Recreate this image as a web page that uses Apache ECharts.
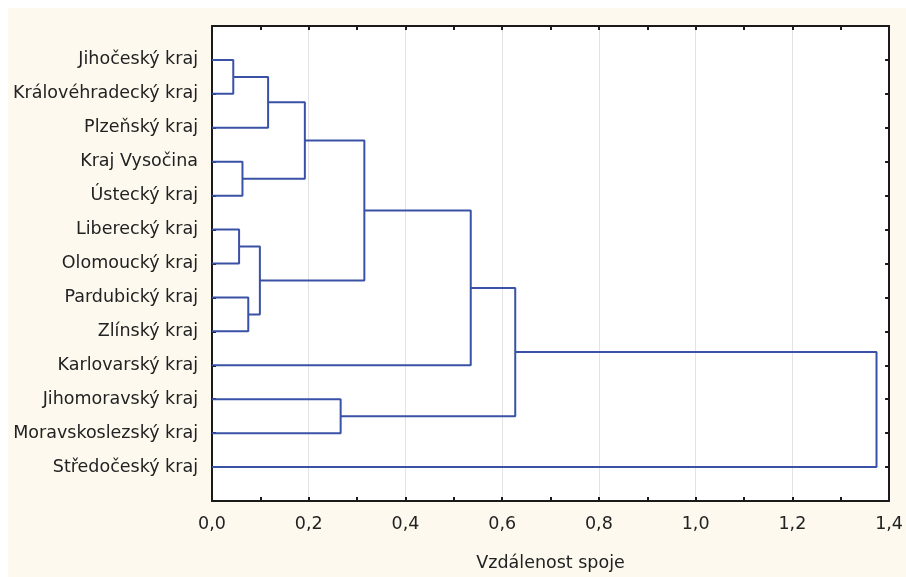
<!DOCTYPE html>
<html>
<head>
<meta charset="utf-8">
<script src="https://cdn.jsdelivr.net/npm/echarts@6/dist/echarts.min.js"></script>
<style>
html,body{margin:0;padding:0;background:#fff;}
#chart{width:906px;height:577px;}
</style>
</head>
<body>
<div id="chart"></div>
<script>
// Leaves (top to bottom)
var leaves = ['Jihočeský kraj','Královéhradecký kraj','Plzeňský kraj','Kraj Vysočina','Ústecký kraj',
  'Liberecký kraj','Olomoucký kraj','Pardubický kraj','Zlínský kraj','Karlovarský kraj',
  'Jihomoravský kraj','Moravskoslezský kraj','Středočeský kraj'];
// Merges: child indices (leaves 0..12, new clusters 13..)
var mergeLeft  = [0, 13, 3, 14, 5, 7, 17, 16, 20, 10, 21, 23];
var mergeRight = [1, 2, 4, 15, 6, 8, 18, 19, 9, 11, 22, 12];
var mergeDist  = [0.044, 0.116, 0.063, 0.192, 0.056, 0.075, 0.099, 0.315, 0.535, 0.266, 0.627, 1.374];
var xTicks = [0, 0.2, 0.4, 0.6, 0.8, 1.0, 1.2, 1.4];

var nodeH = [], nodeY = [];
for (var i = 0; i < leaves.length; i++) { nodeH.push(0); nodeY.push(i); }
var series = [];
for (var m = 0; m < mergeDist.length; m++) {
  var a = mergeLeft[m], b = mergeRight[m], h = mergeDist[m];
  series.push({
    type: 'line', symbol: 'none', silent: true, animation: false,
    lineStyle: { color: '#3a52a6', width: 2 },
    data: [[nodeH[a], nodeY[a]], [h, nodeY[a]], [h, nodeY[b]], [nodeH[b], nodeY[b]]]
  });
  nodeH.push(h); nodeY.push((nodeY[a] + nodeY[b]) / 2);
}

var font = '"DejaVu Sans", Verdana, sans-serif';
var fs = 17.5;
var chart = echarts.init(document.getElementById('chart'), null, {renderer: 'canvas'});
chart.setOption({
  backgroundColor: '#ffffff',
  animation: false,
  graphic: [{ type: 'rect', z: -10, silent: true, shape: { x: 8, y: 8, width: 898, height: 569 }, style: { fill: '#fdf9ef' } }],
  grid: { left: 212, right: 13, top: 26, bottom: 75, show: true, backgroundColor: '#ffffff', borderWidth: 0 },
  xAxis: [{
    type: 'value', min: 0, max: 1.4, interval: 0.2, position: 'bottom',
    name: 'Vzdálenost spoje', nameLocation: 'middle', nameGap: 53,
    nameTextStyle: { fontFamily: font, fontSize: fs, color: '#222' },
    axisLine: { show: true, onZero: false, lineStyle: { color: '#1a1a1a', width: 2 } },
    axisTick: { show: true, inside: true, length: 4, lineStyle: { color: '#1a1a1a', width: 2 } },
    minorTick: { show: true, splitNumber: 2, length: 4, lineStyle: { color: '#1a1a1a', width: 2 } },
    splitLine: { show: true, lineStyle: { color: '#e3e3e3', width: 1 } },
    axisLabel: { fontFamily: font, fontSize: fs, color: '#222', margin: 14,
      formatter: function (v) { return v.toFixed(1).replace('.', ','); } }
  }, {
    type: 'value', min: 0, max: 1.4, interval: 0.2, position: 'top',
    axisLine: { show: true, onZero: false, lineStyle: { color: '#1a1a1a', width: 2 } },
    axisTick: { show: true, inside: true, length: 4, lineStyle: { color: '#1a1a1a', width: 2 } },
    minorTick: { show: true, splitNumber: 2, length: 4, lineStyle: { color: '#1a1a1a', width: 2 } },
    splitLine: { show: false }, axisLabel: { show: false }
  }],
  yAxis: [{
    type: 'value', min: -1, max: 13, interval: 1, inverse: true, position: 'left',
    axisLine: { show: true, onZero: false, lineStyle: { color: '#1a1a1a', width: 2 } },
    axisTick: { show: true, inside: true, length: 4, lineStyle: { color: '#1a1a1a', width: 2 } },
    splitLine: { show: false },
    axisLabel: { fontFamily: font, fontSize: fs, color: '#222', margin: 14, showMinLabel: true, showMaxLabel: true,
      formatter: function (v) { return (v >= 0 && v < leaves.length) ? leaves[v] : ''; } }
  }, {
    type: 'value', min: -1, max: 13, interval: 1, inverse: true, position: 'right',
    axisLine: { show: true, onZero: false, lineStyle: { color: '#1a1a1a', width: 2 } },
    axisTick: { show: true, inside: true, length: 4, lineStyle: { color: '#1a1a1a', width: 2 } },
    splitLine: { show: false }, axisLabel: { show: false }
  }],
  series: series
});
</script>
</body>
</html>
